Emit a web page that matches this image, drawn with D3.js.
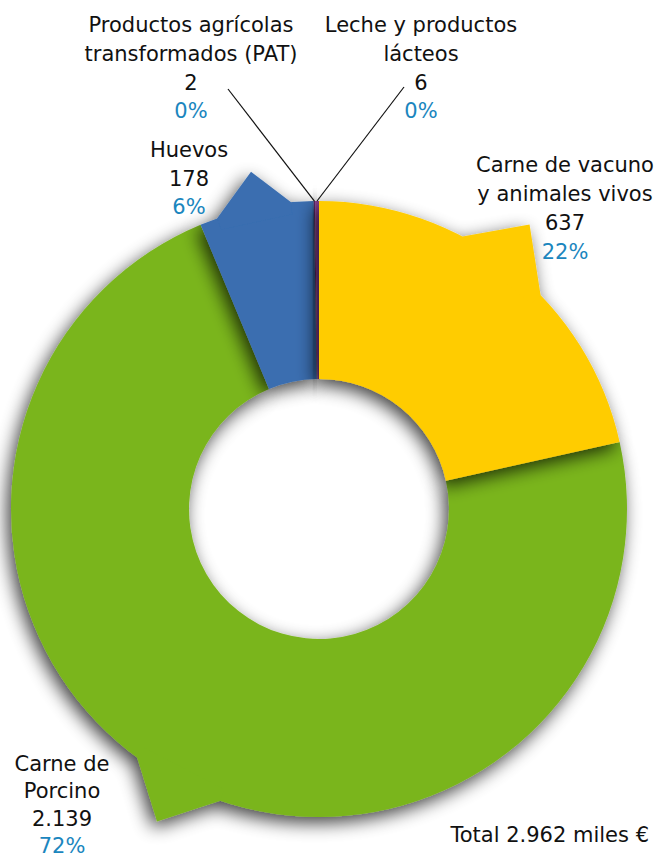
<!DOCTYPE html>
<html>
<head>
<meta charset="utf-8">
<script src="https://cdn.jsdelivr.net/npm/d3@7"></script>
<style>
  html, body { margin: 0; padding: 0; background: #fff; }
  svg { display: block; }
  text { font-family: "DejaVu Sans", sans-serif; font-size: 21px; }
</style>
</head>
<body>
<svg id="chart" width="654" height="859"></svg>
<script>
// ---- data ----
const categories = [
  "Carne de vacuno y animales vivos",
  "Carne de Porcino",
  "Huevos",
  "Productos agrícolas transformados (PAT)",
  "Leche y productos lácteos"
];
const labelLines = [
  ["Carne de vacuno", "y animales vivos"],
  ["Carne de", "Porcino"],
  ["Huevos"],
  ["Productos agrícolas", "transformados (PAT)"],
  ["Leche y productos", "lácteos"]
];
const values = [637, 2139, 178, 2, 6];
const totalLabel = "Total";
const unitLabel = "miles €";

// ---- layout / style ----
const colors = ["#FFCC00", "#7AB51F", "#3A6EB0", "#6B2C6F", "#8B3F92"];
const W = 654, H = 859;
const cx = 319, cy = 509, outerR = 308, innerR = 130;
// label anchors (center x, first baseline y, line step)
const labelPos = [
  { x: 565, y: 172, step: 28.9 },
  { x: 62, y: 771, step: 27.3 },
  { x: 189, y: 157, step: 28.6 },
  { x: 191, y: 32, step: 28.8 },
  { x: 421, y: 32, step: 28.8 }
];
// callout tails: start angle, end angle, tip angle (degrees), tip radius
const tails = [
  { a0: 27.8, a1: 46.0, ta: 36.5, tr: 354 },
  { a0: 198.7, a1: 216.2, ta: 207.4, tr: 352 },
  { a0: 340.7, a1: 354.8, ta: 348.6, tr: 344 },
  null, null
];
// leader lines for tiny slices: label end point
const leaders = [null, null, null, { x: 228, y: 89 }, { x: 404, y: 87 }];
const drawOrder = [1, 2, 3, 4, 0];

const es = d3.formatLocale({ decimal: ",", thousands: ".", grouping: [3], currency: ["", " €"] });
const fmtNum = es.format(",d");
const total = d3.sum(values);
const fmtPct = v => Math.round(v / total * 100) + "%";

const svg = d3.select("#chart");
const defs = svg.append("defs");
function makeShadow(id, std, dx, dy, op) {
  const f = defs.append("filter").attr("id", id)
    .attr("x", "-40%").attr("y", "-40%").attr("width", "180%").attr("height", "180%");
  f.append("feGaussianBlur").attr("in", "SourceAlpha").attr("stdDeviation", std).attr("result", "blur");
  f.append("feOffset").attr("in", "blur").attr("dx", dx).attr("dy", dy).attr("result", "off");
  f.append("feComponentTransfer").attr("in", "off").attr("result", "sh")
    .append("feFuncA").attr("type", "linear").attr("slope", op);
  const fm = f.append("feMerge");
  fm.append("feMergeNode").attr("in", "sh");
  fm.append("feMergeNode").attr("in", "SourceGraphic");
}
makeShadow("shadow", 9, -4, 6, 0.75);
makeShadow("shadowThin", 10, -4, 4, 1.6);

const pie = d3.pie().sort(null).value(d => d).startAngle(0).endAngle(2 * Math.PI);
const arcs = pie(values);
const arc = d3.arc().innerRadius(innerR).outerRadius(outerR);

const g = svg.append("g").attr("transform", `translate(${cx},${cy})`);
const rad = d => d * Math.PI / 180;
const pt = (aDeg, r) => [r * Math.sin(rad(aDeg)), -r * Math.cos(rad(aDeg))];

drawOrder.forEach(i => {
  const thin = values[i] / total < 0.01;
  const sg = g.append("g").attr("filter", thin ? "url(#shadowThin)" : "url(#shadow)");
  sg.append("path").attr("d", arc(arcs[i])).attr("fill", colors[i]);
  const t = tails[i];
  if (t) {
    const poly = [pt(t.a0, outerR - 12), pt(t.a0, outerR), pt(t.ta, t.tr), pt(t.a1, outerR), pt(t.a1, outerR - 12)];
    sg.append("path").attr("d", d3.line()(poly) + "Z").attr("fill", colors[i]);
  }
});

// leader lines
arcs.forEach((a, i) => {
  const L = leaders[i];
  if (!L) return;
  const mid = (a.startAngle + a.endAngle) / 2 * 180 / Math.PI;
  const p = pt(mid, outerR);
  svg.append("line")
    .attr("x1", L.x).attr("y1", L.y)
    .attr("x2", cx + p[0]).attr("y2", cy + p[1])
    .attr("stroke", "#111").attr("stroke-width", 1.2);
});

// labels
arcs.forEach((a, i) => {
  const pos = labelPos[i];
  const t = svg.append("text").attr("text-anchor", "middle");
  const lines = labelLines[i].map(s => ({ s, c: "#111" }))
    .concat([{ s: fmtNum(values[i]), c: "#111" }, { s: fmtPct(values[i]), c: "#1B86BE" }]);
  lines.forEach((l, k) => {
    t.append("tspan").attr("x", pos.x).attr("y", pos.y + k * pos.step).attr("fill", l.c).text(l.s);
  });
});

svg.append("text").attr("x", 649).attr("y", 842).attr("text-anchor", "end").attr("fill", "#111")
  .text(`${totalLabel} ${fmtNum(total)} ${unitLabel}`);
</script>
</body>
</html>
